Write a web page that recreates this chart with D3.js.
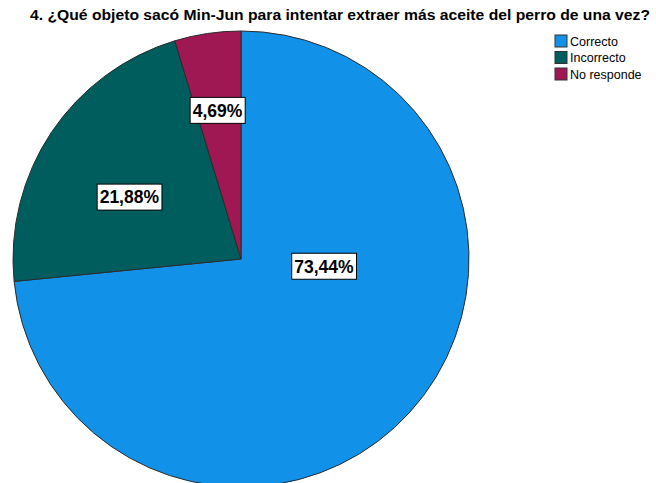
<!DOCTYPE html>
<html>
<head>
<meta charset="utf-8">
<script src="https://cdn.jsdelivr.net/npm/d3@7"></script>
<style>
  body { margin: 0; background: #fff; }
  svg { display: block; font-family: "Liberation Sans", Arial, sans-serif; }
</style>
</head>
<body>
<div id="chart"></div>
<script>
const title = "4. ¿Qué objeto sacó Min-Jun para intentar extraer más aceite del perro de una vez?";
const categories = ["Correcto", "Incorrecto", "No responde"];
const percents = [73.44, 21.88, 4.69];
const colors = ["#1192E8", "#005D5D", "#9F1853"];

// where SPSS puts each label (angle from 12 o'clock in degrees, fraction of radius)
const labelAngle = [95, 299, 351];
const labelDist = [0.365, 0.56, 0.66];

const width = 656;
const height = 483;
const cx = 241, cy = 259, radius = 228;

const svg = d3.select("#chart")
              .append("svg")
              .attr("width", width)
              .attr("height", height)

svg.append("text")
   .attr("x", 30)
   .attr("y", 20)
   .attr("font-size", "14.5px")
   .attr("font-weight", "bold")
   .attr("textLength", 620)
   .attr("lengthAdjust", "spacingAndGlyphs")
   .attr("fill", "#000")
   .text(title)

const data = categories.map((c, i) => ({name: c, value: percents[i], color: colors[i], i: i}))

const pie = d3.pie()
              .sort(null)
              .value(d => d.value)

const arc = d3.arc()
              .innerRadius(0)
              .outerRadius(radius)

const g = svg.append("g")
             .attr("transform", `translate(${cx},${cy})`)

g.selectAll("path")
 .data(pie(data))
 .enter()
 .append("path")
 .attr("d", arc)
 .attr("fill", d => d.data.color)
 .attr("stroke", "#2b2b2b")
 .attr("stroke-width", 1)

const labels = g.selectAll("g.lbl")
                .data(data)
                .enter()
                .append("g")
                .attr("class", "lbl")
                .attr("transform", (d, i) => {
                  const a = labelAngle[i] * Math.PI / 180
                  const r = labelDist[i] * radius
                  return `translate(${r * Math.sin(a)},${-r * Math.cos(a)})`
                })

labels.append("text")
      .attr("text-anchor", "middle")
      .attr("dy", "0.36em")
      .attr("font-size", "17.5px")
      .attr("font-weight", "bold")
      .attr("fill", "#000")
      .text(d => d.value.toFixed(2).replace(".", ",") + "%")

labels.each(function() {
  const t = d3.select(this).select("text").node().getBBox()
  d3.select(this).insert("rect", "text")
    .attr("x", t.x - 2.5)
    .attr("y", -13)
    .attr("width", t.width + 5)
    .attr("height", 26)
    .attr("fill", "#fff")
    .attr("stroke", "#000")
    .attr("stroke-width", 1)
})

const legend = svg.append("g")
                  .attr("transform", "translate(555,35)")

const rows = legend.selectAll("g")
                   .data(data)
                   .enter()
                   .append("g")
                   .attr("transform", (d, i) => `translate(0,${i * 16.5})`)

rows.append("rect")
    .attr("width", 12)
    .attr("height", 12)
    .attr("fill", d => d.color)
    .attr("stroke", "#333")
    .attr("stroke-width", 1)

rows.append("text")
    .attr("x", 15)
    .attr("y", 10.5)
    .attr("font-size", "12.5px")
    .attr("fill", "#000")
    .text(d => d.name)
</script>
</body>
</html>
